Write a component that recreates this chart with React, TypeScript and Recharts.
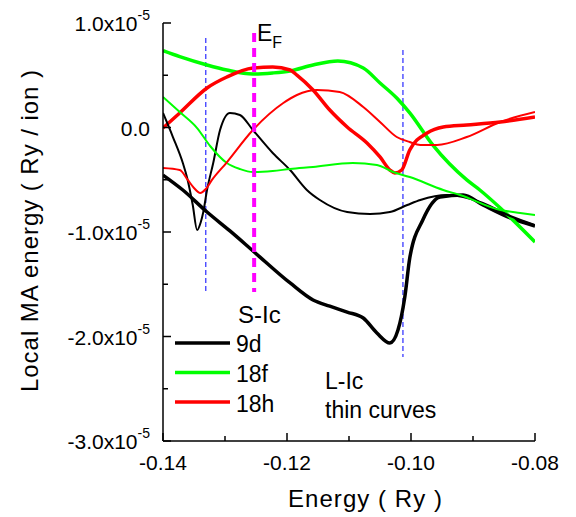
import React from 'react';
import { LineChart, Line, XAxis, YAxis, ReferenceLine, Customized } from 'recharts';

// energy in Ry, local MA energy in units of 1e-5 Ry/ion
const energyTicks = [-0.14, -0.13, -0.12, -0.11, -0.1, -0.09, -0.08];
const maTicks = [-3, -2.5, -2, -1.5, -1, -0.5, 0, 0.5, 1];

const fermiLevel = -0.1253;
const cutLeft = -0.1331;
const cutRight = -0.1013;

// S-Ic (thick curves)
const d9dS = [
  [-0.14, -0.455], [-0.1368, -0.598], [-0.1329, -0.809], [-0.1292, -0.99], [-0.1253, -1.191],
  [-0.1195, -1.488], [-0.1158, -1.651], [-0.1131, -1.71], [-0.1103, -1.766], [-0.1077, -1.823],
  [-0.1055, -1.967], [-0.1034, -2.062], [-0.1021, -1.938], [-0.101, -1.622], [-0.1002, -1.249],
  [-0.0981, -0.885], [-0.0953, -0.665], [-0.0916, -0.646], [-0.0884, -0.742], [-0.084, -0.866],
  [-0.08, -0.943],
];
const d18fS = [
  [-0.14, 0.735], [-0.1373, 0.678], [-0.1329, 0.598], [-0.1297, 0.55], [-0.1255, 0.512],
  [-0.1223, 0.522], [-0.1195, 0.541], [-0.1158, 0.598], [-0.1118, 0.636], [-0.1077, 0.569],
  [-0.105, 0.426], [-0.1023, 0.282], [-0.1002, 0.139], [-0.0965, -0.167], [-0.091, -0.502],
  [-0.0889, -0.598], [-0.0856, -0.77], [-0.08, -1.096],
];
const d18hS = [
  [-0.14, -0.005], [-0.1373, 0.139], [-0.1329, 0.378], [-0.1297, 0.483], [-0.1255, 0.569],
  [-0.1223, 0.579], [-0.1195, 0.55], [-0.1184, 0.502], [-0.1158, 0.359], [-0.1131, 0.167],
  [-0.1103, 0.005], [-0.1071, -0.148], [-0.105, -0.282], [-0.1034, -0.407], [-0.1026, -0.435],
  [-0.1015, -0.407], [-0.1002, -0.215], [-0.0974, -0.053], [-0.0948, 0.005], [-0.091, 0.024],
  [-0.0856, 0.053], [-0.08, 0.1],
];

// L-Ic (thin curves)
const d9dL = [
  [-0.14, 0.139], [-0.1384, -0.091], [-0.1368, -0.34], [-0.1361, -0.483], [-0.1352, -0.742],
  [-0.1345, -0.981], [-0.1339, -0.904], [-0.1335, -0.809], [-0.1329, -0.598], [-0.1319, -0.34],
  [-0.1308, -0.024], [-0.1292, 0.139], [-0.1276, 0.12], [-0.1255, -0.024], [-0.1223, -0.244],
  [-0.1195, -0.407], [-0.1168, -0.598], [-0.1147, -0.694], [-0.1103, -0.809], [-0.1066, -0.828],
  [-0.1034, -0.809], [-0.1006, -0.742], [-0.0985, -0.694], [-0.0942, -0.646], [-0.0884, -0.722],
  [-0.084, -0.847], [-0.08, -0.933],
];
const d18fL = [
  [-0.14, 0.292], [-0.1373, 0.148], [-0.1345, -0.005], [-0.1324, -0.177], [-0.1297, -0.34],
  [-0.1276, -0.397], [-0.1255, -0.426], [-0.1223, -0.416], [-0.1195, -0.397], [-0.1158, -0.378],
  [-0.1094, -0.34], [-0.1055, -0.359], [-0.1029, -0.426], [-0.1002, -0.474], [-0.0948, -0.598],
  [-0.0921, -0.646], [-0.0856, -0.789], [-0.0824, -0.818], [-0.08, -0.837],
];
const d18hL = [
  [-0.14, -0.388], [-0.1373, -0.407], [-0.136, -0.502], [-0.135, -0.579], [-0.134, -0.627],
  [-0.1331, -0.589], [-0.1321, -0.502], [-0.1298, -0.34], [-0.1255, -0.024], [-0.1206, 0.234],
  [-0.1184, 0.311], [-0.1152, 0.359], [-0.1115, 0.34], [-0.1077, 0.196], [-0.105, 0.053],
  [-0.1023, -0.091], [-0.1002, -0.139], [-0.0985, -0.167], [-0.0958, -0.167], [-0.091, -0.091],
  [-0.0856, 0.053], [-0.08, 0.148],
];

const legendItems = [
  { name: '9d', color: '#000000' },
  { name: '18f', color: '#00ff00' },
  { name: '18h', color: '#ff0000' },
];

const FONT = 'Liberation Sans, Arial, sans-serif';

const toPts = (arr: number[][]) => arr.map(([e, v]) => ({ e, v }));

function XTick(props: any) {
  const { x, y, payload } = props;
  const v = payload.value;
  const major = Math.abs(Math.round(v * 100)) % 2 === 0;
  return (
    <g>
      <line x1={x} x2={x} y1={y} y2={y - (major ? 8 : 5)} stroke="#000" strokeWidth={1.5} />
      {major && (
        <text x={x} y={y + 29} textAnchor="middle" fontSize={21} fontFamily={FONT} fill="#000">
          {v.toFixed(2)}
        </text>
      )}
    </g>
  );
}

function YTick(props: any) {
  const { x, y, payload } = props;
  const v = payload.value;
  const major = Number.isInteger(v);
  return (
    <g>
      <line x1={x} x2={x + (major ? 8 : 5)} y1={y} y2={y} stroke="#000" strokeWidth={1.5} />
      {major && (
        <text x={x - 13} y={y + 8} textAnchor="end" fontSize={21} fontFamily={FONT} fill="#000">
          {v === 0 ? (
            '0.0'
          ) : (
            <>
              <tspan>{`${v.toFixed(1)}x10`}</tspan>
              <tspan dy={-11} fontSize={14}>-5</tspan>
            </>
          )}
        </text>
      )}
    </g>
  );
}

function Annotations() {
  return (
    <g fontFamily={FONT} fill="#000">
      <text x={257} y={41} fontSize={23}>
        E<tspan fontSize={16} dy={7}>F</tspan>
      </text>
      <text x={238} y={323} fontSize={24}>S-Ic</text>
      {legendItems.map((it, i) => (
        <g key={it.name}>
          <line x1={175} x2={230} y1={343 + i * 29.5} y2={343 + i * 29.5} stroke={it.color} strokeWidth={3.5} />
          <text x={236} y={352 + i * 29.8} fontSize={23}>{it.name}</text>
        </g>
      ))}
      <text x={325} y={389} fontSize={23}>L-Ic</text>
      <text x={325} y={418} fontSize={23}>thin curves</text>
      <text x={365} y={507} fontSize={24} textAnchor="middle" textLength={154} lengthAdjust="spacing">
        Energy ( Ry )
      </text>
      <text
        transform="translate(38,231) rotate(-90)"
        fontSize={24}
        textAnchor="middle"
        textLength={322}
        lengthAdjust="spacing"
      >
        Local MA energy ( Ry / ion )
      </text>
    </g>
  );
}

export default function App() {
  const lines = [
    { key: '9d-S', data: d9dS, color: '#000000', w: 3.5 },
    { key: '18f-S', data: d18fS, color: '#00ff00', w: 3.5 },
    { key: '18h-S', data: d18hS, color: '#ff0000', w: 3.5 },
    { key: '9d-L', data: d9dL, color: '#000000', w: 2 },
    { key: '18f-L', data: d18fL, color: '#00ff00', w: 2 },
    { key: '18h-L', data: d18hL, color: '#ff0000', w: 2 },
  ];
  return (
    <div style={{ position: 'absolute', left: 0, top: 0, background: '#fff' }}>
      <LineChart width={576} height={517} margin={{ top: 23, right: 41, bottom: 0, left: 0 }}>
        <XAxis
          type="number"
          dataKey="e"
          domain={[-0.14, -0.08]}
          ticks={energyTicks}
          allowDataOverflow
          height={76}
          tickSize={0}
          tickMargin={0}
          tickLine={false}
          tick={<XTick />}
          axisLine={{ stroke: '#000', strokeWidth: 1.5 }}
        />
        <YAxis
          type="number"
          dataKey="v"
          domain={[-3, 1]}
          ticks={maTicks}
          allowDataOverflow
          width={163}
          tickSize={0}
          tickMargin={0}
          tickLine={false}
          tick={<YTick />}
          axisLine={{ stroke: '#000', strokeWidth: 1.5 }}
        />
        <ReferenceLine
          segment={[{ x: cutLeft, y: 0.856 }, { x: cutLeft, y: -1.574 }]}
          stroke="#2a2aff"
          strokeWidth={1.2}
          strokeDasharray="5 3"
          ifOverflow="visible"
        />
        <ReferenceLine
          segment={[{ x: cutRight, y: 0.742 }, { x: cutRight, y: -2.196 }]}
          stroke="#2a2aff"
          strokeWidth={1.2}
          strokeDasharray="5 3"
          ifOverflow="visible"
        />
        {lines.map((l) => (
          <Line
            key={l.key}
            data={toPts(l.data)}
            dataKey="v"
            type="monotone"
            stroke={l.color}
            strokeWidth={l.w}
            dot={false}
            activeDot={false}
            isAnimationActive={false}
          />
        ))}
        <ReferenceLine
          segment={[{ x: fermiLevel, y: 0.904 }, { x: fermiLevel, y: -1.574 }]}
          stroke="#ff00ff"
          strokeWidth={4}
          strokeDasharray="9 6"
          ifOverflow="visible"
        />
        <Customized component={Annotations} />
      </LineChart>
    </div>
  );
}
